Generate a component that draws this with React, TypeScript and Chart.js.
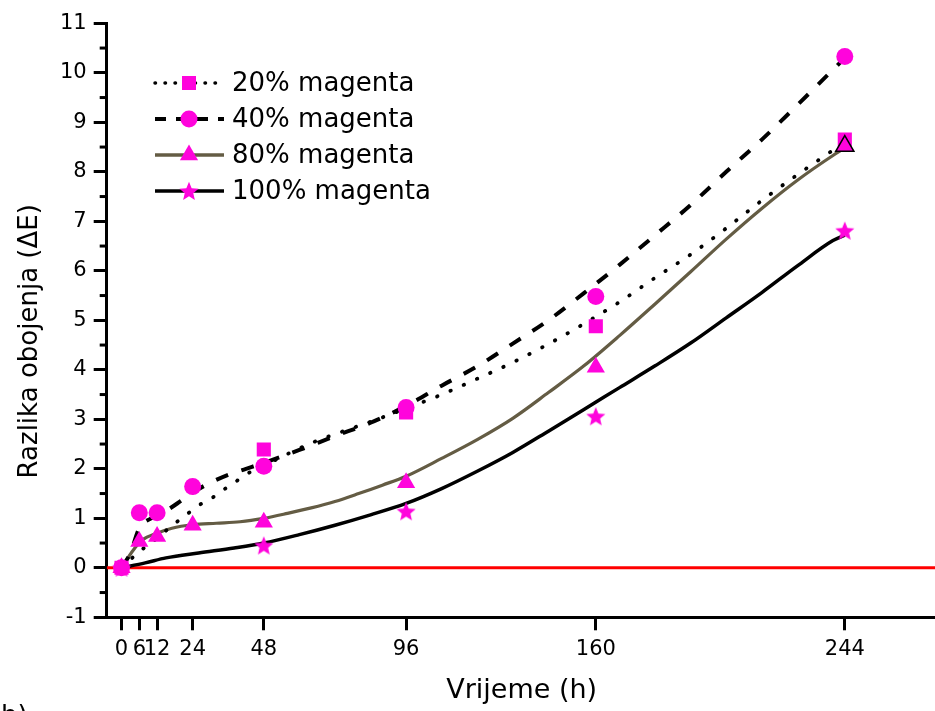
import React, { useEffect, useRef } from 'react';
import { Chart, registerables } from 'chart.js';

Chart.register(...registerables);

// ---------- data ----------
const hours = [0, 6, 12, 24, 48, 96, 160, 244];
const xTickValues = [0, 6, 12, 24, 48, 96, 160, 244];
const yMinorTicks = [-0.5, 0.5, 1.5, 2.5, 3.5, 4.5, 5.5, 6.5, 7.5, 8.5, 9.5, 10.5];

const seriesLabels = ['20% magenta', '40% magenta', '80% magenta', '100% magenta'];

// measured points
const magenta20 = [0, null, null, null, 2.39, 3.14, 4.88, 8.65];
const magenta40 = [0, 1.11, 1.11, 1.64, 2.05, 3.24, 5.48, 10.33];
const magenta80 = [0, 0.53, 0.63, 0.86, 0.92, 1.72, 4.05, 8.52];
const magenta100 = [0, null, null, null, 0.45, 1.14, 3.06, 6.81];

// fitted curves
const fit20Hours = [0, 4, 8, 12, 17, 22, 26, 31, 35, 39, 43, 48, 56, 64, 72, 84, 96, 108, 120, 132, 144, 156, 168, 180, 192, 204, 216, 228, 244];
const fit20Values = [0, 0.22, 0.42, 0.6, 0.85, 1.08, 1.26, 1.43, 1.6, 1.76, 1.92, 2.06, 2.3, 2.52, 2.7, 2.95, 3.22, 3.5, 3.82, 4.15, 4.52, 4.93, 5.37, 5.86, 6.33, 6.86, 7.42, 7.94, 8.6];

const fit40Hours = [0, 3, 6, 10, 15, 20, 24, 30, 36, 42, 48, 60, 72, 84, 96, 108, 120, 132, 144, 156, 168, 180, 192, 204, 216, 228, 244];
const fit40Values = [0, 0.3, 0.8, 1.0, 1.15, 1.35, 1.52, 1.72, 1.88, 2.0, 2.12, 2.38, 2.66, 2.93, 3.27, 3.68, 4.07, 4.53, 5.0, 5.55, 6.12, 6.72, 7.33, 8.0, 8.65, 9.35, 10.3];

const fit80Hours = [0, 4, 7, 12, 17, 24, 32, 40, 48, 56, 64, 72, 80, 88, 96, 108, 120, 132, 144, 156, 168, 180, 192, 204, 216, 228, 240, 244];
const fit80Values = [0, 0.36, 0.56, 0.7, 0.8, 0.87, 0.9, 0.93, 1.0, 1.1, 1.21, 1.34, 1.5, 1.67, 1.85, 2.21, 2.59, 3.02, 3.54, 4.08, 4.69, 5.33, 5.98, 6.64, 7.26, 7.83, 8.33, 8.48];

const fit100Hours = [0, 8, 15, 26, 38, 48, 60, 72, 84, 96, 108, 120, 132, 144, 156, 168, 180, 192, 204, 216, 228, 240, 244];
const fit100Values = [0, 0.1, 0.2, 0.3, 0.4, 0.5, 0.67, 0.86, 1.07, 1.3, 1.6, 1.95, 2.33, 2.76, 3.2, 3.64, 4.08, 4.54, 5.05, 5.56, 6.1, 6.61, 6.72];

const zeroLineHours = [-5, 275];
const zeroLineValues = [0, 0];

// ---------- styles ----------
const MAGENTA = '#FF04DC';
const OLIVE = '#645C44';
const FONT = 'DejaVu Sans';

const toXY = (xs: number[], ys: (number | null)[]) =>
  xs.map((x, i) => ({ x, y: ys[i] })).filter((p) => p.y !== null) as { x: number; y: number }[];

function makeStar(r: number, color: string) {
  const c = document.createElement('canvas');
  const s = Math.ceil(r * 2 + 2);
  c.width = s;
  c.height = s;
  const ctx = c.getContext('2d')!;
  ctx.fillStyle = color;
  ctx.beginPath();
  for (let i = 0; i < 10; i++) {
    const ang = -Math.PI / 2 + (i * Math.PI) / 5;
    const rr = i % 2 === 0 ? r : r * 0.45;
    const x = s / 2 + rr * Math.cos(ang);
    const y = s / 2 + 0.8 + rr * Math.sin(ang);
    if (i === 0) ctx.moveTo(x, y);
    else ctx.lineTo(x, y);
  }
  ctx.closePath();
  ctx.fill();
  return c;
}

function drawMarker(ctx: CanvasRenderingContext2D, kind: string, x: number, y: number, star: HTMLCanvasElement) {
  ctx.save();
  ctx.fillStyle = MAGENTA;
  ctx.beginPath();
  if (kind === 'rect') {
    ctx.rect(x - 7, y - 7, 14, 14);
    ctx.fill();
  } else if (kind === 'circle') {
    ctx.arc(x, y, 8.5, 0, Math.PI * 2);
    ctx.fill();
  } else if (kind === 'triangle') {
    const r = 10.5;
    ctx.moveTo(x, y - r);
    ctx.lineTo(x + r * 0.866, y + r * 0.5);
    ctx.lineTo(x - r * 0.866, y + r * 0.5);
    ctx.closePath();
    ctx.fill();
  } else {
    ctx.drawImage(star, x - star.width / 2, y - star.height / 2);
  }
  ctx.restore();
}

export default function App() {
  const ref = useRef<HTMLCanvasElement | null>(null);

  useEffect(() => {
    if (!ref.current) return;
    const star = makeStar(10, MAGENTA);
    Chart.defaults.font.family = FONT;

    const legendRows = [
      { label: seriesLabels[0], color: '#000', width: 3.5, dash: [0.5, 9.5], cap: 'round', marker: 'rect' },
      { label: seriesLabels[1], color: '#000', width: 4, dash: [11, 10], cap: 'butt', marker: 'circle' },
      { label: seriesLabels[2], color: OLIVE, width: 3.5, dash: [], cap: 'butt', marker: 'triangle' },
      { label: seriesLabels[3], color: '#000', width: 3.5, dash: [], cap: 'butt', marker: 'star' },
    ];

    const extras = {
      id: 'extras',
      afterDraw(chart: any) {
        const ctx: CanvasRenderingContext2D = chart.ctx;
        const ys = chart.scales.y;
        const area = chart.chartArea;
        ctx.save();
        // minor y ticks
        ctx.strokeStyle = '#000';
        ctx.lineWidth = 3;
        yMinorTicks.forEach((v) => {
          const py = ys.getPixelForValue(v);
          ctx.beginPath();
          ctx.moveTo(area.left - 7, py);
          ctx.lineTo(area.left, py);
          ctx.stroke();
        });
        // y title
        ctx.save();
        ctx.translate(30, (area.top + area.bottom) / 2 + 21);
        ctx.rotate(-Math.PI / 2);
        ctx.fillStyle = '#000';
        ctx.font = `26px "${FONT}"`;
        ctx.textAlign = 'center';
        ctx.textBaseline = 'middle';
        ctx.fillText('Razlika obojenja (\u0394E)', 0, 0);
        ctx.restore();
        // legend
        legendRows.forEach((row, i) => {
          const y = 83 + i * 36;
          ctx.save();
          ctx.strokeStyle = row.color;
          ctx.lineWidth = row.width;
          ctx.lineCap = row.cap as CanvasLineCap;
          ctx.setLineDash(row.dash);
          ctx.beginPath();
          ctx.moveTo(155, y);
          ctx.lineTo(224, y);
          ctx.stroke();
          ctx.restore();
          drawMarker(ctx, row.marker, 189, y, star);
          ctx.fillStyle = '#000';
          ctx.font = `26px "${FONT}"`;
          ctx.textAlign = 'left';
          ctx.textBaseline = 'middle';
          ctx.fillText(row.label, 232, y + 1);
        });
        // panel label (cut off at bottom)
        ctx.fillStyle = '#000';
        ctx.font = `26px "${FONT}"`;
        ctx.textAlign = 'left';
        ctx.textBaseline = 'alphabetic';
        ctx.fillText('b)', 1, 724);
        ctx.restore();
      },
    };

    const lastBlack = (n: number) => (c: any) => (c.dataIndex === n ? '#000' : MAGENTA);

    const chart = new Chart(ref.current, {
      type: 'line',
      data: {
        datasets: [
          {
            label: seriesLabels[3],
            data: toXY(hours, magenta100),
            showLine: false,
            pointStyle: star as any,
            pointRadius: 9,
            backgroundColor: MAGENTA,
            borderColor: MAGENTA,
            order: 0,
          },
          {
            label: seriesLabels[2],
            data: toXY(hours, magenta80),
            showLine: false,
            pointStyle: 'triangle',
            pointRadius: 10.5,
            pointBackgroundColor: MAGENTA,
            pointBorderColor: lastBlack(hours.length - 1) as any,
            pointBorderWidth: (c: any) => (c.dataIndex === hours.length - 1 ? 1.5 : 0),
            order: 0,
          },
          {
            label: seriesLabels[1],
            data: toXY(hours, magenta40),
            showLine: false,
            pointStyle: 'circle',
            pointRadius: 8.5,
            pointBackgroundColor: MAGENTA,
            pointBorderWidth: 0,
            order: 0,
          },
          {
            label: seriesLabels[0],
            data: toXY(hours, magenta20),
            showLine: false,
            pointStyle: 'rect',
            pointRadius: 10,
            pointBackgroundColor: MAGENTA,
            pointBorderWidth: 0,
            order: 0,
          },
          {
            label: seriesLabels[0] + ' fit',
            data: toXY(fit20Hours, fit20Values),
            borderColor: '#000',
            borderWidth: 3.8,
            borderDash: [0.5, 14],
            borderCapStyle: 'round',
            pointRadius: 0,
            cubicInterpolationMode: 'monotone',
            order: 1,
          },
          {
            label: seriesLabels[1] + ' fit',
            data: toXY(fit40Hours, fit40Values),
            borderColor: '#000',
            borderWidth: 4,
            borderDash: [13, 14],
            pointRadius: 0,
            cubicInterpolationMode: 'monotone',
            order: 1,
          },
          {
            label: seriesLabels[2] + ' fit',
            data: toXY(fit80Hours, fit80Values),
            borderColor: OLIVE,
            borderWidth: 3.2,
            pointRadius: 0,
            cubicInterpolationMode: 'monotone',
            order: 1,
          },
          {
            label: seriesLabels[3] + ' fit',
            data: toXY(fit100Hours, fit100Values),
            borderColor: '#000',
            borderWidth: 3.5,
            pointRadius: 0,
            cubicInterpolationMode: 'monotone',
            order: 1,
          },
          {
            label: 'zero',
            data: toXY(zeroLineHours, zeroLineValues),
            borderColor: '#FF0000',
            borderWidth: 3,
            pointRadius: 0,
            order: 2,
          },
        ],
      },
      options: {
        animation: false,
        responsive: false,
        maintainAspectRatio: false,
        layout: { padding: { top: 23.3, right: 23.3, left: 0, bottom: 0 } },
        plugins: { legend: { display: false }, tooltip: { enabled: false } },
        scales: {
          x: {
            type: 'linear',
            min: -5,
            max: 275,
            afterBuildTicks: (s: any) => {
              s.ticks = xTickValues.map((v) => ({ value: v }));
            },
            afterFit: (s: any) => {
              s.height = 711 - 617.3;
            },
            ticks: {
              autoSkip: false,
              maxRotation: 0,
              color: '#000',
              padding: 7,
              font: { size: 21, family: FONT },
              callback: (v: any) => String(v),
            },
            grid: { drawOnChartArea: false, drawTicks: true, tickLength: 13, tickWidth: 3, tickColor: '#000' },
            border: { display: true, color: '#000', width: 3 },
            title: {
              display: true,
              text: 'Vrijeme (h)',
              color: '#000',
              font: { size: 27, family: FONT },
              padding: { top: 0, bottom: 4 },
            },
          },
          y: {
            type: 'linear',
            min: -1,
            max: 11,
            afterFit: (s: any) => {
              s.width = 106.7;
            },
            ticks: {
              stepSize: 1,
              color: '#000',
              padding: 7,
              font: { size: 21, family: FONT },
            },
            grid: { drawOnChartArea: false, drawTicks: true, tickLength: 13, tickWidth: 3, tickColor: '#000' },
            border: { display: true, color: '#000', width: 3 },
          },
        },
      },
      plugins: [extras],
    } as any);

    return () => chart.destroy();
  }, []);

  return (
    <div style={{ position: 'fixed', left: 0, top: 0, width: 935, height: 711, overflow: 'hidden', background: '#fff' }}>
      <canvas ref={ref} width={960} height={711} style={{ display: 'block' }} />
    </div>
  );
}
